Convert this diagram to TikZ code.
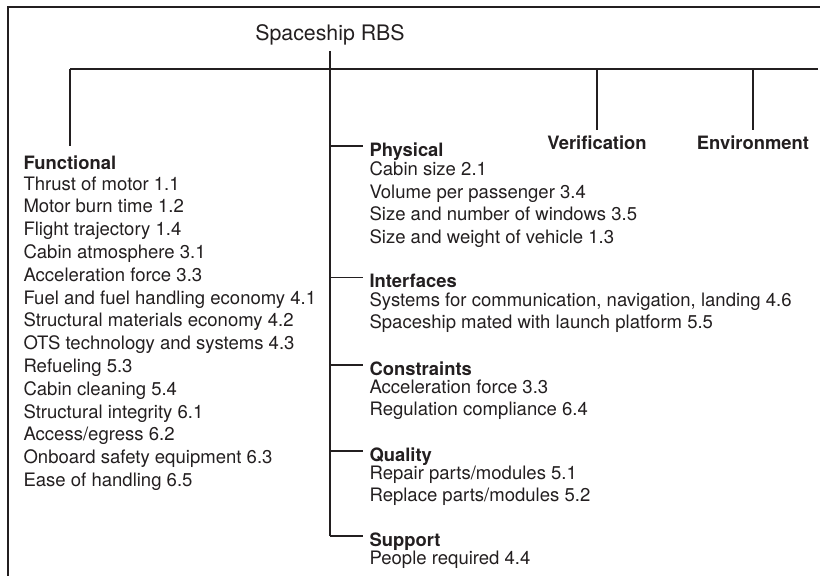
\documentclass[tikz,border=0pt]{standalone}
\usepackage{fontspec}
\setmainfont{TeX Gyre Heros}
\definecolor{ink}{HTML}{231F20}
\tikzset{every picture/.style={line width=0.8pt}}
\tikzset{
	head/.style={anchor=base west, inner sep=0pt, text=ink, font=\fontsize{13.8}{16}\selectfont\bfseries},
	item/.style={anchor=base west, inner sep=0pt, text=ink, font=\fontsize{13.9}{16}\selectfont},
	tophead/.style={head, anchor=base},
	frame/.style={line width=1.4pt}}

\begin{document}
\begin{tikzpicture}[x=0.75pt,y=0.75pt,yscale=-1,xscale=1, draw=ink]
	\useasboundingbox (0,0) rectangle (820,575);

	%Shape: Frame
	\draw[frame] (8,577) -- (8,7) -- (822,7) ;

	% Title
	\node[anchor=base, inner sep=0pt, text=ink, font=\fontsize{16}{19}\selectfont] (rbs) at (330,40) {Spaceship RBS};

	% Junctions
	\coordinate (hub) at (330,69);
	\coordinate (func-j) at (70,69);
	\coordinate (bar-end) at (818,69);
	\coordinate (phys-j) at (330,146);
	\coordinate (intf-j) at (330,277.5);
	\coordinate (cons-j) at (330,365);
	\coordinate (qual-j) at (330,451);
	\coordinate (supp-j) at (330,536);

	% Headings
	\node[head] (func) at (23,169) {Functional};
	\node[tophead] (verif) at (597,149) {Verification};
	\node[tophead] (envir) at (753,149) {Environment};
	\node[head] (phys) at (369,156) {Physical};
	\node[head] (intf) at (369,287.5) {Interfaces};
	\node[head] (cons) at (369,375) {Constraints};
	\node[head] (qual) at (369,461) {Quality};
	\node[head] (supp) at (369,546) {Support};

	% Items
	\foreach \t [count=\i] in {Thrust of motor 1.1, Motor burn time 1.2, Flight trajectory 1.4, Cabin atmosphere 3.1, Acceleration force 3.3, Fuel and fuel handling economy 4.1, Structural materials economy 4.2, OTS technology and systems 4.3, Refueling 5.3, Cabin cleaning 5.4, Structural integrity 6.1, Access/egress 6.2, Onboard safety equipment 6.3, Ease of handling 6.5}
		\node[item] (func-\i) at (23,{190+(\i-1)*22.8}) {\t};
	\foreach \t [count=\i] in {Cabin size 2.1, Volume per passenger 3.4, Size and number of windows 3.5, Size and weight of vehicle 1.3}
		\node[item] (phys-\i) at (369,{175.5+(\i-1)*22.5}) {\t};
	\foreach \t [count=\i] in {{Systems for communication, navigation, landing 4.6}, Spaceship mated with launch platform 5.5}
		\node[item] (intf-\i) at (369,{306+(\i-1)*22.3}) {\t};
	\foreach \t [count=\i] in {Acceleration force 3.3, Regulation compliance 6.4}
		\node[item] (cons-\i) at (369,{393.5+(\i-1)*22.3}) {\t};
	\foreach \t [count=\i] in {Repair parts/modules 5.1, Replace parts/modules 5.2}
		\node[item] (qual-\i) at (369,{479.5+(\i-1)*22.3}) {\t};
	\node[item] (supp-1) at (369,564.5) {People required 4.4};

	% Tree lines
	\draw[shorten <=4.2pt] (rbs.south) -- (supp-j) ;
	\draw (func-j) -- (bar-end) ;
	\draw[shorten >=6.5pt] (func-j) -- (func-j |- func.north) ;
	\draw[shorten >=3.5pt] (verif.north |- hub) -- (verif.north) ;
	\draw[shorten >=3.5pt] (envir.north |- hub) -- (envir.north) ;
	\foreach \g in {phys, intf, cons, qual, supp}
		\draw[shorten >=4.5pt] (\g-j) -- (\g-j -| \g.west) ;

\end{tikzpicture}
\end{document}
